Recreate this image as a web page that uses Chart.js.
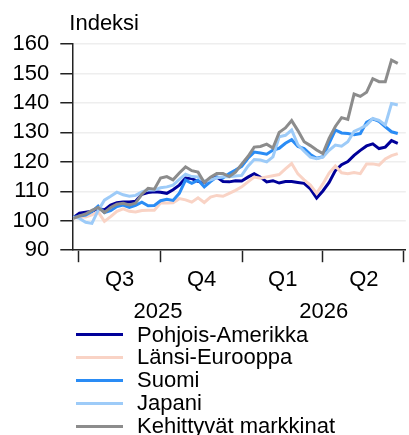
<!DOCTYPE html>
<html>
<head>
<meta charset="utf-8">
<script src="https://cdn.jsdelivr.net/npm/chart.js@4"></script>
<style>
  html, body { margin: 0; padding: 0; background: #fff; }
  body { width: 409px; height: 435px; position: relative; overflow: hidden;
         font-family: "Liberation Sans", Arial, sans-serif; }
  #wrap { position: absolute; left: 0; top: 0; width: 409px; height: 325px; }
  #legend { position: absolute; left: 76px; top: 323.5px; font-size: 22px; line-height: 22.9px; color: #000; }
  #legend .row { display: flex; align-items: center; height: 22.9px; white-space: nowrap; }
  #legend .swatch { width: 47px; height: 3px; margin-right: 14px; }
</style>
</head>
<body>
<div id="wrap"><canvas id="chart"></canvas></div>
<div id="legend"></div>
<script>
// ── data: weekly index, days counted from 1 Jul 2025 ──────────
const DAYS = [-6, 1, 8, 15, 22, 29, 36, 43, 50, 57, 64, 71, 78, 85, 92, 99, 106, 113, 120, 127,
    134, 141, 148, 155, 162, 169, 176, 183, 190, 197, 204, 211, 218, 225, 232, 239, 246, 253,
    260, 267, 274, 281, 288, 295, 302, 309, 316, 323, 330, 337, 344, 351, 358];

const NA = [101, 102.6, 102.9, 103.2, 104.2, 103.7, 105.3, 106.1, 106.4, 106.4, 106.6, 109, 109.6,
    109.8, 109.7, 109.3, 110.5, 112.1, 114.5, 114.3, 113.4, 112.9, 114.3, 114.8, 113.3, 113.2, 113.6,
    113.5, 114.8, 116, 114.8, 113.2, 113.6, 112.8, 113.3, 113.3, 113, 112.7, 110.8, 107.7, 110.1, 113,
    117, 119, 120.1, 122.2, 123.9, 125.4, 126.1, 124.5, 125, 127.2, 126.3];
const WEUR = [100.8, 101.3, 101.3, 102, 103, 99.8, 101.4, 103.2, 104, 103.2, 103, 103.5, 103.6,
    103.6, 106, 106, 106.1, 107.5, 107.1, 106.3, 107.8, 106.2, 108, 108.6, 108.3, 109.3, 110.3,
    111.5, 113.2, 114.8, 114.4, 114.9, 115.3, 115.7, 117.6, 119.4, 115.9, 113.9, 112.1, 109.3, 112.5,
    116.2, 118.6, 116.3, 116, 116.4, 116, 119.3, 119.3, 118.9, 121, 122.1, 122.8];
const SUOMI = [101, 101.6, 101.9, 103.1, 105, 102.8, 103.4, 104.8, 105.3, 104.5, 105.2, 106.3, 105.1,
    105.2, 106.8, 107.3, 106.9, 109.3, 113.8, 112.7, 113.8, 111.5, 113.3, 114.8, 114.5, 116, 117.2,
    118.5, 121.2, 123.3, 123, 122.6, 124, 124.6, 126.3, 127.5, 125.2, 124.5, 122.5, 121.2, 121.7,
    126.3, 130.8, 129.8, 129.6, 129.2, 129.6, 133.4, 134.6, 133.7, 131.9, 130.2, 129.6];
const JAPANI = [101.3, 100.8, 99.5, 99.1, 103.5, 107, 108.3, 109.7, 108.8, 108.3, 108.6, 109.8, 110.4,
    110.4, 111.2, 111.5, 112.1, 114, 115.8, 115, 114.9, 113.3, 113.9, 114.5, 114.9, 114.9, 115.2,
    115.4, 118.5, 120.8, 120.6, 120, 121.7, 128.5, 129, 130.8, 125.8, 123.6, 121.6, 121.1, 121.6,
    123.9, 125.7, 125.3, 126.8, 130.3, 131.3, 132.5, 134.7, 134.1, 132.5, 139.8, 139.3];
const EM = [100.8, 101.6, 102.3, 103.5, 104.5, 102.8, 104.5, 105.6, 105.9, 105.4, 106, 109, 111,
    110.7, 114.5, 115, 113.9, 116.2, 118.3, 117, 116.5, 113, 114.8, 116, 116, 115, 116.5, 119.2,
    121.8, 125, 125.2, 126, 124.7, 130, 131.5, 134, 130.6, 126.8, 125.5, 124, 122.8, 128, 132, 135,
    134.4, 143, 142.2, 143.6, 148.2, 147.2, 147.2, 154.5, 153.4];

const SERIES_NAMES = ['Pohjois-Amerikka', 'Länsi-Eurooppa', 'Suomi', 'Japani', 'Kehittyvät markkinat'];

// ── axis ticks ───────────────────────────────
const Y_TICKS = [90, 100, 110, 120, 130, 140, 150, 160];
const QUARTER_EDGES = [0, 92, 184, 274, 365];
const QUARTER_MIDS = [46, 138, 229, 320];
const QUARTER_LABELS = ['Q3', 'Q4', 'Q1', 'Q2'];
const YEAR_POS = [89, 275];
const YEAR_LABELS = ['2025', '2026'];
const Y_TITLE = 'Indeksi';

const COLORS = ['#000099', '#f9d3c5', '#2a8cf5', '#9dcbf8', '#8c8c8c'];
const AXIS = '#222';
const FONT = { family: '"Liberation Sans", Arial, sans-serif', size: 22 };

Chart.defaults.font = FONT;
Chart.defaults.color = '#000';

const values = [NA, WEUR, SUOMI, JAPANI, EM];
const datasets = values.map((vals, k) => ({
    label: SERIES_NAMES[k],
    data: vals.map((v, i) => ({ x: DAYS[i], y: v })),
    borderColor: COLORS[k],
    backgroundColor: COLORS[k],
    borderWidth: 3,
    pointRadius: 0,
    tension: 0,
    order: 4 - k,   // last one on top
}));

// "Indeksi" above the y axis
const yTitle = {
    id: 'yTitle',
    afterDraw(chart) {
        const { ctx, chartArea } = chart;
        ctx.save();
        ctx.font = '22px "Liberation Sans", Arial, sans-serif';
        ctx.fillStyle = '#000';
        ctx.textBaseline = 'alphabetic';
        ctx.fillText(Y_TITLE, chartArea.left - 3, 30);
        ctx.restore();
    }
};

new Chart(document.getElementById('chart'), {
    type: 'line',
    data: { datasets },
    plugins: [yTitle],
    options: {
        responsive: true,
        maintainAspectRatio: false,
        animation: false,
        layout: { autoPadding: false, padding: { top: 44, left: 1.6, right: 0, bottom: 0 } },
        plugins: { legend: { display: false }, tooltip: { enabled: false } },
        scales: {
            x: {
                type: 'linear', min: -7, max: 367,
                afterBuildTicks: s => {
                    s.ticks = [...QUARTER_EDGES, ...QUARTER_MIDS].sort((a, b) => a - b).map(v => ({ value: v }));
                },
                ticks: {
                    autoSkip: false, maxRotation: 0, padding: 5,
                    callback: v => { const k = QUARTER_MIDS.indexOf(v); return k >= 0 ? QUARTER_LABELS[k] : ''; }
                },
                grid: {
                    drawOnChartArea: false, tickLength: 12, tickWidth: 1.5,
                    tickColor: c => QUARTER_EDGES.includes(c.tick.value) ? AXIS : 'rgba(0,0,0,0)'
                },
                border: { color: AXIS, width: 1.5 }
            },
            x2: {
                type: 'linear', position: 'bottom', min: -7, max: 367,
                afterBuildTicks: s => { s.ticks = YEAR_POS.map(v => ({ value: v })); },
                ticks: {
                    autoSkip: false, maxRotation: 0, padding: 0,
                    callback: v => YEAR_LABELS[YEAR_POS.indexOf(v)]
                },
                grid: { display: false, drawTicks: false },
                border: { display: false }
            },
            y: {
                min: 90, max: 160,
                afterBuildTicks: s => { s.ticks = Y_TICKS.map(v => ({ value: v })); },
                ticks: { autoSkip: false, padding: 11 },
                grid: { color: '#eeeeee', lineWidth: 1.5, tickLength: 12, tickColor: AXIS, tickWidth: 1.5 },
                border: { color: AXIS, width: 1.5 }
            }
        }
    }
});

// ── legend (one column under the chart) ───────────
const legend = document.getElementById('legend');
SERIES_NAMES.forEach((name, k) => {
    const row = document.createElement('div');
    row.className = 'row';
    const sw = document.createElement('span');
    sw.className = 'swatch';
    sw.style.background = COLORS[k];
    const txt = document.createElement('span');
    txt.textContent = name;
    row.appendChild(sw);
    row.appendChild(txt);
    legend.appendChild(row);
});
</script>
</body>
</html>
